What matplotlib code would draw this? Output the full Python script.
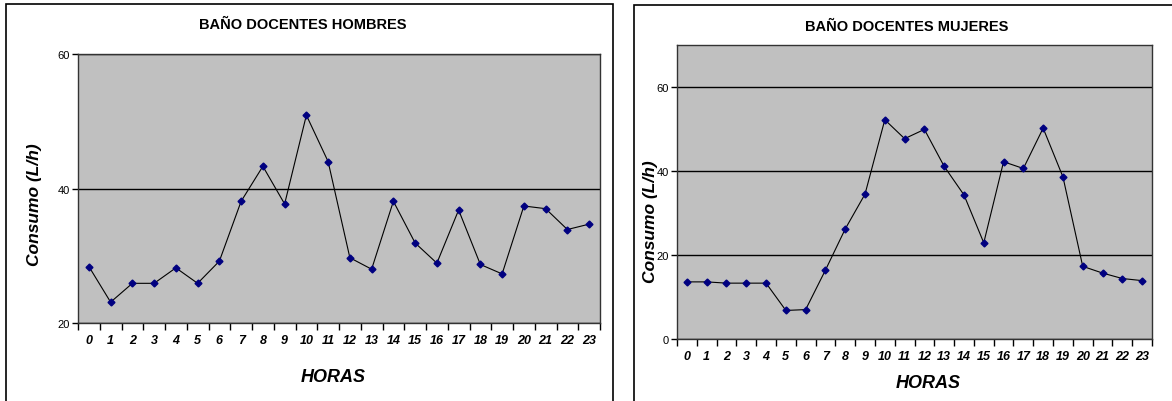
import matplotlib.pyplot as plt
from matplotlib.patches import Rectangle
import numpy as np

horas = list(range(24))
hombres = [28.4, 23.1, 25.9, 25.9, 28.2, 25.9, 29.2, 38.1, 43.3, 37.7, 50.9, 44.0,
           29.7, 28.0, 38.1, 31.9, 28.9, 36.8, 28.7, 27.3, 37.4, 37.0, 33.9, 34.7]
mujeres = [13.6, 13.6, 13.3, 13.3, 13.3, 6.8, 7.0, 16.4, 26.2, 34.5, 52.2, 47.7,
           49.9, 41.1, 34.3, 22.9, 42.2, 40.6, 50.2, 38.6, 17.3, 15.7, 14.4, 13.9]

titulos = ["BAÑO DOCENTES HOMBRES", "BAÑO DOCENTES MUJERES"]
yticks_h = [20, 40, 60]
yticks_m = [0, 20, 40, 60]

plt.rcParams['font.family'] = ['Liberation Sans', 'DejaVu Sans']

fig = plt.figure(figsize=(11.72, 4.02), dpi=100)

# outer frames of both charts
fig.add_artist(Rectangle((6/1172, -0.01), 607/1172, 1 - 5/402 + 0.01, transform=fig.transFigure,
                         fill=False, edgecolor='black', lw=1.2))
fig.add_artist(Rectangle((634/1172, -0.01), 540/1172, 1 - 6/402 + 0.01, transform=fig.transFigure,
                         fill=False, edgecolor='black', lw=1.2))

ax1 = fig.add_axes([78/1172, 1 - 324/402, 522/1172, 269/402])
ax2 = fig.add_axes([677/1172, 1 - 340/402, 475/1172, 294/402])

def draw(ax, y, yticks, ylim):
    ax.set_facecolor('#C0C0C0')
    ax.plot(horas, y, color='black', lw=0.8, marker='D', markersize=3.5,
            markerfacecolor='#000080', markeredgecolor='#000080', zorder=3)
    ax.set_xlim(-0.5, 23.5)
    ax.set_ylim(*ylim)
    ax.set_yticks(yticks)
    ax.set_yticklabels([str(v) for v in yticks], fontsize=8)
    ax.grid(axis='y', color='black', lw=1)
    ax.set_axisbelow(True)
    ax.set_xticks(np.arange(-0.5, 24, 1))
    ax.set_xticklabels([])
    ax.set_xticks(horas, minor=True)
    ax.set_xticklabels([str(h) for h in horas], minor=True,
                       fontsize=9, fontweight='bold', style='italic')
    ax.tick_params(axis='x', which='major', length=5, direction='out', width=1)
    ax.tick_params(axis='x', which='minor', length=0, pad=8)
    ax.tick_params(axis='y', length=4, width=1, pad=2)
    for s in ax.spines.values():
        s.set_linewidth(1)
        s.set_color('#333333')

draw(ax1, hombres, yticks_h, (20, 60))
draw(ax2, mujeres, yticks_m, (0, 70))

fig.text(303/1172, 1 - 25/402, titulos[0], ha='center', va='center',
         fontsize=10.5, fontweight='bold')
fig.text(907/1172, 1 - 27/402, titulos[1], ha='center', va='center',
         fontsize=10.5, fontweight='bold')

fig.text(35/1172, 1 - 205/402, "Consumo (L/h)", rotation=90, ha='center', va='center',
         fontsize=12.5, fontweight='bold', style='italic')
fig.text(650/1172, 1 - 222/402, "Consumo (L/h)", rotation=90, ha='center', va='center',
         fontsize=12.5, fontweight='bold', style='italic')

fig.text(333/1172, 1 - 378/402, "HORAS", ha='center', va='center',
         fontsize=13, fontweight='bold', style='italic')
fig.text(928/1172, 1 - 384/402, "HORAS", ha='center', va='center',
         fontsize=13, fontweight='bold', style='italic')

fig.savefig('out.png', dpi=100)
